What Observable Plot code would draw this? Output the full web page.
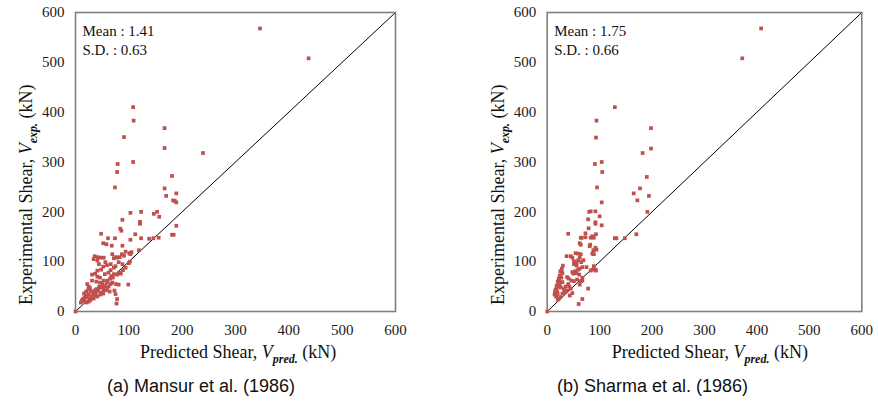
<!DOCTYPE html>
<html><head><meta charset="utf-8">
<script src="https://cdn.jsdelivr.net/npm/d3@7"></script>
<script src="https://cdn.jsdelivr.net/npm/@observablehq/plot@0.6"></script>
<style>
body{margin:0;background:#fff;}
#wrap{position:relative;width:878px;height:407px;overflow:hidden;background:#fff;}
.panel{position:absolute;top:0;}
.panel text{font-family:"Liberation Serif","DejaVu Serif","Times New Roman",serif !important;}
.cap{position:absolute;top:376px;font-family:"Liberation Sans",Arial,sans-serif;font-size:18px;color:#111;white-space:nowrap;}
</style></head><body><div id="wrap"></div>
<script>
const axisTicks = [0, 100, 200, 300, 400, 500, 600];
const diagonal = [0, 600];

const mansurPred = [0,346,437,108,109,167,91,167,239,79,108,78,74,181,167,189,170,183,186,189,103,123,147,153,157,88,121,121,189,84,86,48,112,181,184,52,58,61,74,103,123,138,146,156,68,88,36,42,47,53,72,76,78,83,87,91,94,101,103,105,119,69,100,102,89,85,78,82,75,66,59,52,48,37,31,41,46,55,62,67,72,31,39,46,53,59,66,69,76,81,22,25,27,28,33,37,42,47,53,59,64,16,19,17,22,25,28,33,37,41,47,52,14,17,21,25,28,34,99,73,75,78,77,44,56,66,81,88,94,72,41,34,41,12,10,20,24,30,35,40,45,50,55,60,65,70,50,44,38,56,62];
const mansurExp  = [0,568,508,410,383,368,350,328,318,296,300,280,249,272,247,237,232,223,222,219,198,200,196,200,190,184,180,176,172,166,162,156,155,154,154,137,135,147,147,144,147,146,147,148,132,132,111,109,108,108,107,109,108,109,115,112,120,117,115,119,123,115,97,100,83,76,74,78,91,83,93,90,84,76,74,70,68,75,78,71,75,62,60,58,62,58,55,58,55,54,55,50,47,42,40,43,42,38,42,43,40,36,32,28,29,35,26,35,32,30,34,36,25,21,18,20,23,26,54,42,35,25,16,95,99,95,99,95,88,88,82,105,102,22,18,40,45,30,38,45,50,48,52,62,66,68,55,48,36,46,50];

const sharmaPred = [0,408,372,129,94,198,93,198,182,104,91,105,190,95,177,165,194,172,104,191,92,83,80,100,78,92,92,104,79,73,40,93,89,66,83,170,129,132,148,64,62,64,73,86,82,81,88,86,89,94,92,37,45,54,59,64,62,48,51,56,59,65,69,56,51,67,62,59,54,48,50,56,61,25,29,24,27,23,29,22,38,41,46,51,57,64,67,16,19,20,18,22,25,29,33,38,45,48,43,78,67,60,83,93,86,92,89,75,67,62,15,17,20,14,18,21,24,26,18,20,22,25,27,28,30,35,40,32,42];
const sharmaExp  = [0,568,508,410,383,368,349,327,318,300,296,280,270,249,247,237,232,223,219,200,201,201,200,191,185,179,176,173,167,157,156,155,148,148,148,155,147,147,147,148,137,134,149,151,134,131,123,116,115,124,128,111,111,117,116,115,108,108,101,98,103,99,103,92,95,89,86,84,81,79,76,77,74,81,77,72,68,62,59,56,69,66,62,61,64,61,68,44,39,36,32,25,29,36,39,42,46,37,32,46,25,15,82,82,84,84,91,89,62,54,40,30,24,34,45,50,54,48,52,60,66,72,80,86,92,50,55,45,50];

const mansur = mansurPred.map((p, i) => ({pred: p, exp: mansurExp[i]}));
const sharma = sharmaPred.map((p, i) => ({pred: p, exp: sharmaExp[i]}));

const serif = '"Liberation Serif","DejaVu Serif","Times New Roman",serif';

function panel(data, stats, ml, mr, left, caption, capLeft) {
  const W = 439, H = 370;
  const svg = Plot.plot({
    width: W, height: H,
    marginLeft: ml, marginRight: mr, marginTop: 12, marginBottom: 59,
    style: {fontFamily: serif, fontSize: "15px", color: "#1a1a1a", background: "white", overflow: "visible"},
    x: {domain: [0, 600], ticks: axisTicks, tickSize: 0, tickPadding: 13, label: null},
    y: {domain: [0, 600], ticks: axisTicks, tickSize: 0, tickPadding: 11, label: null},
    marks: [
      Plot.line(diagonal, {x: d => d, y: d => d, stroke: "black", strokeWidth: 1}),
      Plot.frame({stroke: "#808080", strokeWidth: 1.6}),
      Plot.dot(data, {x: "pred", y: "exp", symbol: "square", r: 2.1, fill: "#c0504d", stroke: "none"}),
      Plot.text([stats], {frameAnchor: "top-left", dx: 7, dy: 10, lineAnchor: "top", lineHeight: 1.27,
        text: d => d, fontSize: 15, fill: "#111", textAnchor: "start"})
    ]
  });
  const s = d3.select(svg);
  // x axis title
  const xt = s.append("text").attr("x", ml + 65).attr("y", 358).attr("text-anchor", "start")
    .attr("font-family", serif).attr("font-size", 18).attr("fill", "#111");
  xt.append("tspan").text("Predicted Shear, ");
  xt.append("tspan").attr("font-style", "italic").text("V");
  xt.append("tspan").attr("font-style", "italic").attr("font-weight", "bold").attr("font-size", 12).attr("dy", 5).text("pred.");
  xt.append("tspan").attr("dy", -5).text(" (kN)");
  // y axis title
  const yt = s.append("text").attr("transform", `translate(${ml - 43},${305}) rotate(-90)`).attr("text-anchor", "start")
    .attr("font-family", serif).attr("font-size", 18).attr("fill", "#111");
  yt.append("tspan").text("Experimental Shear, ");
  yt.append("tspan").attr("font-style", "italic").text("V");
  yt.append("tspan").attr("font-style", "italic").attr("font-weight", "bold").attr("font-size", 12).attr("dy", 5).text("exp.");
  yt.append("tspan").attr("dy", -5).text(" (kN)");
  svg.classList.add("panel");
  svg.style.left = left + "px";
  const wrap = document.getElementById("wrap");
  wrap.appendChild(svg);
  const cap = document.createElement("div");
  cap.className = "cap";
  cap.style.left = capLeft + "px";
  cap.textContent = caption;
  wrap.appendChild(cap);
}

panel(mansur, "Mean : 1.41\nS.D. : 0.63", 75, 44, 0, "(a) Mansur et al. (1986)", 107);
panel(sharma, "Mean : 1.75\nS.D. : 0.66", 107.7, 16.7, 439, "(b) Sharma et al. (1986)", 557);
</script></body></html>
